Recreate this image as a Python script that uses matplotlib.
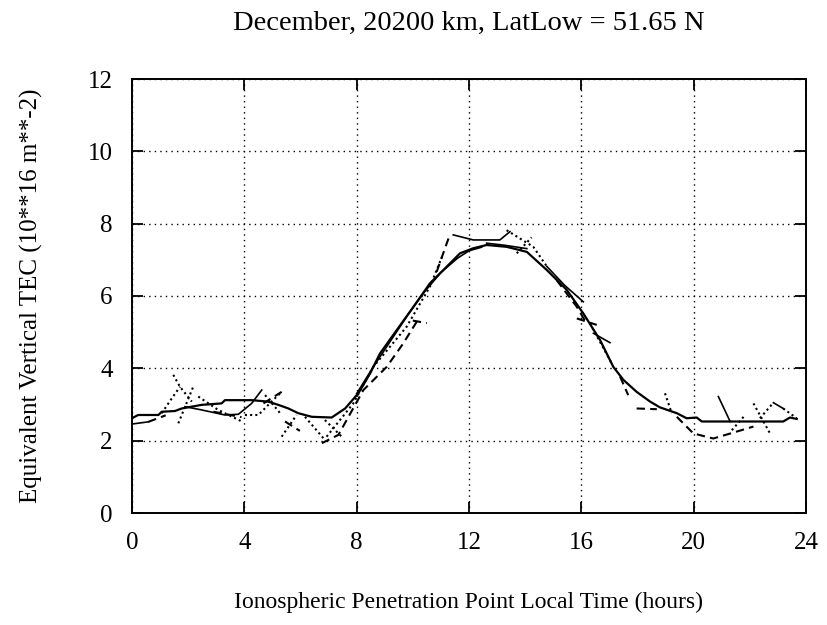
"""
Equivalent vertical TEC versus local time at the ionospheric penetration point.

The smooth model curve is drawn solid; individual satellite passes are
overlaid as short solid, dashed and dotted segments.
"""

import matplotlib.pyplot as plt

plt.rcParams["font.family"] = ["Liberation Serif", "DejaVu Serif"]

# Model curve (hours, TEC units of 1e16 m^-2)
model_hours = [0.0, 0.22, 0.94, 1.06, 1.53, 1.77, 2.48, 3.19, 3.31, 4.26, 4.85,
               5.21, 5.57, 5.92, 6.40, 7.11, 7.59, 8.06, 8.48, 8.83, 9.43, 10.02,
               10.61, 11.09, 11.68, 12.15, 12.63, 13.34, 14.06, 14.77, 15.48,
               16.07, 16.67, 17.14, 17.50, 17.97, 18.45, 18.80, 19.40, 19.75,
               20.11, 20.29, 23.19, 23.43, 23.67]
model_tec = [2.62, 2.71, 2.71, 2.80, 2.82, 2.89, 2.99, 3.03, 3.12, 3.12, 3.08,
             2.99, 2.89, 2.76, 2.66, 2.64, 2.89, 3.31, 3.86, 4.41, 5.06, 5.70,
             6.35, 6.72, 7.18, 7.32, 7.41, 7.36, 7.22, 6.72, 6.17,
             5.52, 4.78, 4.04, 3.68, 3.35, 3.08, 2.92, 2.76, 2.62,
             2.64, 2.53, 2.53, 2.64, 2.60]

# Satellite passes drawn with solid lines
solid_passes = [
    ([0.0, 0.58], [2.46, 2.52]),
    ([1.89, 2.48, 3.31, 3.79, 4.26, 4.62], [2.94, 2.85, 2.71, 2.73, 3.03, 3.40]),
    ([8.0, 8.6, 9.2, 9.8, 10.4, 11.0, 11.6, 12.0, 12.45],
     [3.30, 4.05, 4.75, 5.45, 6.10, 6.65, 7.05, 7.25, 7.35]),
    ([11.44, 12.15, 13.10, 13.46], [7.69, 7.55, 7.55, 7.78]),
    ([12.63, 13.3, 14.06], [7.46, 7.40, 7.31]),
    ([14.77, 15.4, 16.07], [6.82, 6.30, 5.84]),
    ([16.43, 17.02], [4.97, 4.71]),
    ([20.88, 21.30], [3.22, 2.53]),
    ([22.84, 23.19], [3.05, 2.89]),
]

# Satellite passes drawn with dashed lines
dashed_passes = [
    ([0.58, 1.20], [2.52, 2.70]),
    ([2.90, 3.90], [2.80, 2.65]),
    ([4.68, 5.33], [3.03, 3.35]),
    ([5.45, 5.98], [2.53, 2.27]),
    ([6.76, 7.35, 8.24, 9.07, 9.66, 10.14], [1.93, 2.16, 3.40, 4.04, 4.69, 5.29]),
    ([10.0, 10.5], [5.32, 5.25]),
    ([10.85, 11.27], [6.67, 7.59]),
    ([15.12, 15.84, 16.19], [6.44, 5.70, 5.24]),
    ([15.84, 16.55], [5.38, 5.20]),
    ([17.38, 17.67], [3.77, 3.26]),
    ([17.97, 18.69], [2.89, 2.87]),
    ([19.40, 19.99, 20.70, 21.53, 22.13], [2.66, 2.20, 2.06, 2.25, 2.39]),
]

# Satellite passes drawn with dotted lines
dotted_passes = [
    ([1.06, 1.40, 1.71], [2.76, 3.15, 3.49]),
    ([1.47, 1.71, 2.13], [3.82, 3.49, 3.08]),
    ([1.65, 2.18], [2.48, 3.49]),
    ([2.36, 3.07, 3.91], [3.22, 2.85, 2.53]),
    ([4.02, 4.50, 4.97, 5.33], [2.71, 2.71, 3.08, 3.35]),
    ([4.74, 5.33], [3.26, 2.71]),
    ([5.33, 5.86], [2.11, 2.71]),
    ([6.16, 6.87], [2.66, 2.02]),
    ([6.87, 7.47], [2.57, 2.11]),
    ([6.93, 7.88, 8.59, 9.78, 10.61, 11.09], [2.11, 3.03, 4.04, 5.15, 6.26, 7.18]),
    ([13.34, 14.29, 14.77], [7.82, 7.36, 6.82]),
    ([13.70, 14.23], [7.18, 7.62]),
    ([16.31, 17.08], [5.24, 4.14]),
    ([18.98, 19.22], [3.31, 2.76]),
    ([21.36, 21.78], [2.29, 2.66]),
    ([22.13, 22.72], [3.03, 2.20]),
    ([22.36, 22.84], [2.62, 3.05]),
    ([23.19, 23.67], [2.89, 2.62]),
]

x_ticks = [0, 4, 8, 12, 16, 20, 24]
y_ticks = [0, 2, 4, 6, 8, 10, 12]

fig = plt.figure(figsize=(8.28, 6.25), dpi=100)
ax = fig.add_axes([0.1594, 0.1792, 0.814, 0.6944])

ax.plot(model_hours, model_tec, color="black", linewidth=1.6)
for hours, tec in solid_passes:
    ax.plot(hours, tec, color="black", linewidth=1.2)
for hours, tec in dashed_passes:
    ax.plot(hours, tec, color="black", linewidth=1.5, linestyle=(0, (4, 2.5)))
for hours, tec in dotted_passes:
    ax.plot(hours, tec, color="black", linewidth=1.5, linestyle=(0, (1, 1.5)))

ax.set_xlim(0, 24)
ax.set_ylim(0, 12)
ax.set_xticks(x_ticks)
ax.set_yticks(y_ticks)
ax.grid(True, color="black", linestyle=(0, (1, 3)), linewidth=1.0)
ax.tick_params(direction="in", length=8, width=1.3, top=True, right=True,
               labelsize=18, pad=14)
for spine in ax.spines.values():
    spine.set_linewidth(1.4)

ax.set_title("December, 20200 km, LatLow = 51.65 N", fontsize=20.5, pad=35)
ax.set_xlabel("Ionospheric Penetration Point Local Time (hours)", fontsize=17,
              labelpad=27)
ax.set_ylabel("Equivalent Vertical TEC (10**16 m**-2)", fontsize=18, labelpad=32)

fig.savefig("out.png", dpi=100)
